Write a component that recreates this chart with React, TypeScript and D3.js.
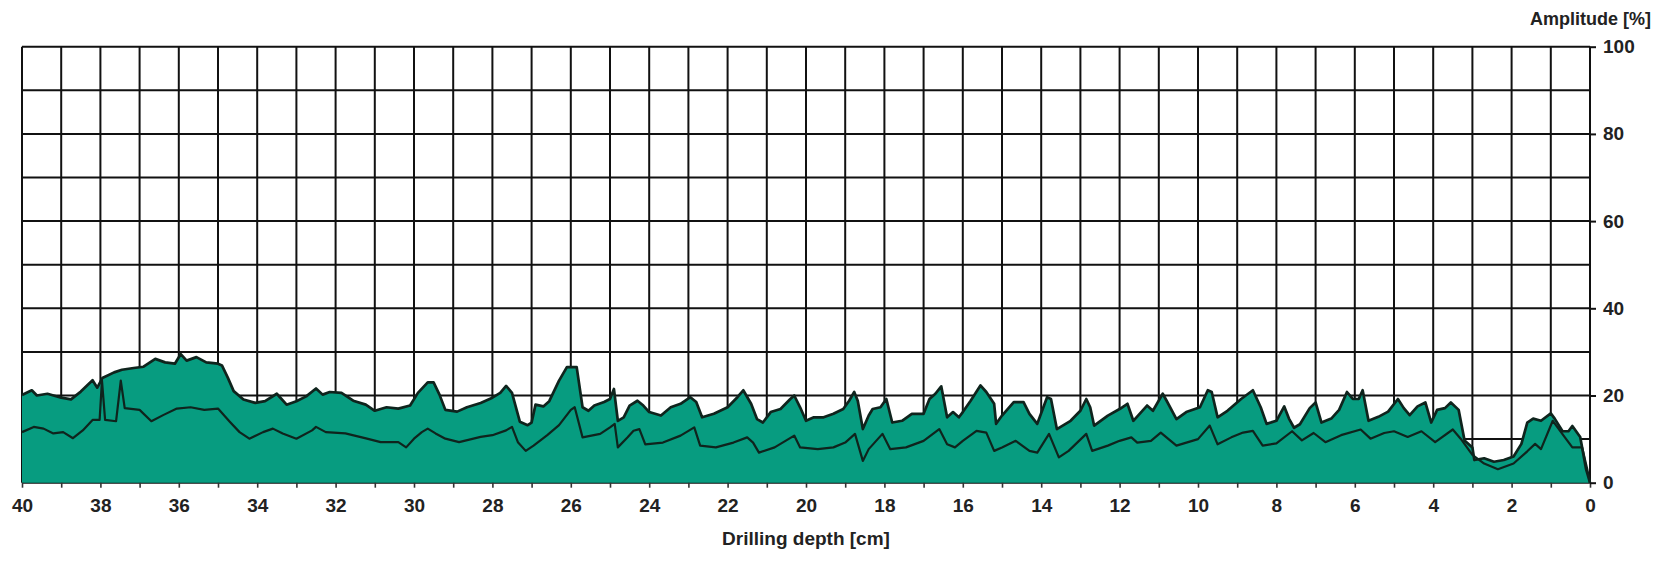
import { useEffect, useRef } from "react";
import * as d3 from "d3";

// upper envelope (outline of the filled area)
const upperDepth = [
  40, 39.75, 39.62, 39.35, 39.0, 38.75, 38.5, 38.2, 38.08, 37.95, 37.65, 37.45, 37.15, 36.9, 36.6, 36.35, 36.1,
  35.95, 35.8, 35.55, 35.3, 35.0, 34.9, 34.75, 34.6, 34.35, 34.05, 33.8, 33.5, 33.25, 33.0, 32.75, 32.5, 32.33,
  32.15, 31.85, 31.55, 31.23, 31.0, 30.7, 30.4, 30.1, 29.9, 29.65, 29.5, 29.35, 29.2, 28.9, 28.65, 28.3, 28.0,
  27.8, 27.65, 27.5, 27.3, 27.1, 27.0, 26.9, 26.7, 26.55, 26.3, 26.1, 25.85, 25.7, 25.55, 25.4, 25.15, 25.0,
  24.9, 24.8, 24.65, 24.5, 24.3, 24.15, 24.0, 23.7, 23.45, 23.2, 22.95, 22.8, 22.65, 22.35, 22.0, 21.75, 21.6,
  21.4, 21.25, 21.1, 20.9, 20.65, 20.4, 20.3, 20.15, 20.0, 19.8, 19.55, 19.3, 19.05, 18.9, 18.77, 18.68, 18.55,
  18.4, 18.3, 18.1, 17.95, 17.8, 17.55, 17.3, 17.0, 16.85, 16.7, 16.55, 16.4, 16.25, 16.1, 16.0, 15.8, 15.55,
  15.4, 15.2, 15.15, 15.0, 14.7, 14.45, 14.3, 14.1, 13.85, 13.75, 13.6, 13.25, 13.0, 12.85, 12.75, 12.65, 12.3,
  12.0, 11.8, 11.65, 11.3, 11.15, 10.9, 10.8, 10.55, 10.3, 9.95, 9.75, 9.65, 9.5, 9.25, 8.9, 8.6, 8.4, 8.25, 8.0,
  7.8, 7.68, 7.55, 7.4, 7.15, 7.0, 6.85, 6.6, 6.4, 6.2, 6.05, 5.9, 5.8, 5.65, 5.4, 5.15, 4.9, 4.75, 4.6, 4.4,
  4.2, 4.05, 3.9, 3.7, 3.55, 3.35, 3.2, 3.0, 2.95, 2.7, 2.45, 2.2, 1.95, 1.75, 1.6, 1.45, 1.25, 1.0, 0.9, 0.7,
  0.55, 0.45, 0.25, 0.1, 0,
];
const upperAmp = [
  20.1, 21.2, 20, 20.4, 19.5, 19.1, 20.9, 23.5, 21.8, 24, 25.3, 25.9, 26.3, 26.6, 28.4, 27.6, 27.3,
  29.5, 28, 28.8, 27.6, 27.3, 26.9, 24.1, 21, 19.1, 18.3, 18.7, 20.4, 17.9, 18.7, 19.8, 21.6, 20.2,
  20.8, 20.6, 18.8, 17.9, 16.5, 17.3, 17, 17.7, 20.6, 23, 23, 20.2, 16.7, 16.3, 17.3, 18.3, 19.5,
  20.6, 22.2, 20.6, 14, 13.2, 13.8, 17.9, 17.5, 18.7, 23.4, 26.5, 26.5, 17.3, 16.5, 17.7, 18.5, 19.2,
  21.5, 14.2, 15, 17.7, 18.8, 17.7, 16.2, 15.4, 17.3, 18.1, 19.6, 18.5, 15, 15.8, 17.3, 19.6, 21.2,
  18.1, 14.6, 13.8, 16.2, 16.9, 19.2, 20, 17.3, 14.2, 15, 15, 15.8, 16.9, 18.8, 20.8, 18.8, 12.3,
  15.4, 16.9, 17.3, 19.2, 13.8, 14.2, 15.8, 15.8, 19.2, 20.4, 22.1, 15, 16.2, 15, 16.2, 18.8, 22.3,
  20.8, 18.1, 13.5, 15.4, 18.5, 18.5, 15.8, 13.5, 19.6, 19.2, 12.3, 14.2, 16.5, 19.2, 17.3, 13.1, 15.4,
  16.9, 18.1, 14.2, 17.7, 16.5, 20.4, 18.8, 14.6, 16.2, 17.3, 21.2, 20.8, 15, 16.5, 19.2, 21.2, 17.3, 13.5, 14.2,
  17.5, 14.7, 12.6, 13.4, 17.1, 18.4, 13.8, 14.7, 16.7, 20.8, 19.2, 19.2, 21.2, 14.2, 15.1, 16.3, 19.2, 17.1, 15.5, 17.5,
  18.4, 13.8, 16.7, 17.1, 18.4, 16.7, 9.7, 8.1, 5.2, 5.6, 4.8, 5.2, 6, 8.9, 13.8, 14.7, 14.2, 15.9, 14.7, 11.8,
  11.8, 13, 10.5, 3.1, 0,
];

// lower curve (drawn as a line inside the area)
const lowerDepth = [
  40, 39.7, 39.45, 39.2, 38.95, 38.7, 38.45, 38.2, 38.02, 37.96, 37.88, 37.6, 37.48, 37.38, 37.0, 36.7, 36.4,
  36.05, 35.7, 35.35, 35.0, 34.7, 34.45, 34.2, 33.85, 33.6, 33.35, 33.0, 32.6, 32.5, 32.25, 31.75, 31.2, 30.85,
  30.4, 30.2, 30.0, 29.8, 29.65, 29.45, 29.2, 28.85, 28.3, 28.0, 27.65, 27.5, 27.35, 27.15, 26.95, 26.6, 26.3,
  26.0, 25.9, 25.7, 25.25, 25.0, 24.88, 24.8, 24.55, 24.4, 24.25, 24.1, 23.65, 23.2, 22.85, 22.7, 22.3, 21.85,
  21.5, 21.35, 21.2, 20.8, 20.3, 20.15, 19.7, 19.3, 19.0, 18.75, 18.55, 18.4, 18.05, 17.85, 17.45, 17.0, 16.6,
  16.4, 16.2, 16.0, 15.65, 15.4, 15.2, 15.0, 14.65, 14.3, 14.1, 13.8, 13.55, 13.3, 12.85, 12.7, 12.3, 12.0, 11.7,
  11.55, 11.2, 10.95, 10.55, 10.0, 9.7, 9.5, 9.15, 8.85, 8.6, 8.35, 8.0, 7.6, 7.35, 7.05, 6.75, 6.35, 5.85, 5.6,
  5.25, 5.0, 4.65, 4.3, 3.95, 3.5, 3.3, 3.0, 2.7, 2.35, 1.95, 1.6, 1.4, 1.25, 0.95, 0.65, 0.45, 0.2, 0.07, 0,
];
const lowerAmp = [
  11.6, 12.8, 12.4, 11.3, 11.6, 10.2, 12, 14.4, 14.4, 23.4, 14.4, 14.1, 23.4, 17.1, 16.7, 14.1, 15.5,
  17, 17.3, 16.7, 17, 14, 11.6, 10.1, 11.6, 12.4, 11.3, 10.1, 12, 12.8, 11.6, 11.3, 10.1, 9.3,
  9.3, 8.1, 10.1, 11.6, 12.4, 11.3, 10.1, 9.3, 10.5, 10.9, 12, 12.8, 9.3, 7.3, 8.5, 10.9, 13.2,
  16.7, 17.3, 10.4, 11.2, 12.7, 13.5, 8.1, 10.4, 11.9, 12.3, 8.8, 9.2, 10.8, 12.7, 8.5, 8.1, 9.2,
  10.4, 9.2, 6.9, 8.1, 10.8, 8.1, 7.7, 8.1, 9.2, 11.2, 5, 7.7, 11.2, 7.7, 8.1, 9.6, 12.3,
  8.8, 8.1, 9.6, 11.9, 11.5, 7.3, 8.1, 9.6, 7.3, 6.9, 11.2, 5.8, 7.3, 11.2, 7.3, 8.5, 9.6, 10.4,
  9.2, 9.6, 11.5, 8.5, 10, 13.1, 8.8, 10.4, 11.5, 11.9, 8.5, 9, 11.8, 9.7, 11.4, 9.3, 10.9, 12.2, 10.1,
  11.4, 11.8, 10.5, 11.8, 9.3, 12.2, 10.1, 6.4, 4.4, 3.1, 4.4, 7.2, 8.9, 7.7, 14.2, 10.5, 8.1, 8.1, 3.1, 0,
];

const depthLabels = [40, 38, 36, 34, 32, 30, 28, 26, 24, 22, 20, 18, 16, 14, 12, 10, 8, 6, 4, 2, 0];
const ampLabels = [0, 20, 40, 60, 80, 100];

const drawChart = (svgEl: SVGSVGElement) => {
  const width = 1663;
  const height = 566;
  const marginTop = 46.7;
  const marginRight = 73;
  const marginBottom = 83.3;
  const marginLeft = 22;
  const fill = "#079c80";
  const ink = "#0f241d";
  const font = "'Liberation Sans', Arial, sans-serif";

  const x = d3.scaleLinear().domain([40, 0]).range([marginLeft, width - marginRight]);
  const y = d3.scaleLinear().domain([0, 100]).range([height - marginBottom, marginTop]);

  const svg = d3.select(svgEl);
  svg.selectAll("*").remove();
  svg
    .attr("width", width)
    .attr("height", height)
    .attr("viewBox", [0, 0, width, height])
    .style("font-family", font);

  svg.append("rect").attr("width", width).attr("height", height).attr("fill", "#fff");

  // grid: every cm and every 10 %
  const grid = svg.append("g").attr("stroke", "#111").attr("stroke-width", 2);
  grid.selectAll("line.v")
    .data(d3.range(40, -1, -1))
    .join("line")
    .attr("class", "v")
    .attr("x1", (d) => x(d))
    .attr("x2", (d) => x(d))
    .attr("y1", y(100))
    .attr("y2", y(0));
  grid.selectAll("line.h")
    .data(d3.range(0, 101, 10))
    .join("line")
    .attr("class", "h")
    .attr("x1", x(40))
    .attr("x2", x(0))
    .attr("y1", (d) => y(d))
    .attr("y2", (d) => y(d));

  const upper: [number, number][] = upperDepth.map((d, i) => [d, upperAmp[i]]);
  const lower: [number, number][] = lowerDepth.map((d, i) => [d, lowerAmp[i]]);

  const area = d3.area<[number, number]>()
    .x((d) => x(d[0]))
    .y0(y(0))
    .y1((d) => y(d[1]));
  const line = d3.line<[number, number]>()
    .x((d) => x(d[0]))
    .y((d) => y(d[1]));

  svg.append("path").datum(upper).attr("fill", fill).attr("d", area);
  svg.append("path")
    .datum(upper)
    .attr("fill", "none")
    .attr("stroke", ink)
    .attr("stroke-width", 2.7)
    .attr("stroke-linejoin", "round")
    .attr("d", line);
  svg.append("path")
    .datum(lower)
    .attr("fill", "none")
    .attr("stroke", ink)
    .attr("stroke-width", 2.2)
    .attr("stroke-linejoin", "round")
    .attr("d", line);

  // x axis (ticks every cm, labels every 2 cm)
  svg.append("g")
    .attr("transform", `translate(0, ${y(0)})`)
    .call(d3.axisBottom(x)
      .tickValues(d3.range(40, -1, -1))
      .tickSize(5)
      .tickPadding(11)
      .tickFormat((d) => (depthLabels.includes(+d) ? String(d) : "")))
    .call((g) => g.select(".domain").remove())
    .call((g) => g.selectAll(".tick line").attr("stroke", "#333").attr("stroke-width", 1.6))
    .call((g) => g.selectAll(".tick text")
      .attr("fill", "#222")
      .attr("font-size", 19)
      .attr("font-weight", "bold")
      .attr("font-family", font));

  // y axis on the right
  svg.append("g")
    .attr("transform", `translate(${x(0)}, 0)`)
    .call(d3.axisRight(y).tickValues(ampLabels).tickSize(6).tickPadding(7))
    .call((g) => g.select(".domain").remove())
    .call((g) => g.selectAll(".tick line").attr("stroke", "#111").attr("stroke-width", 2))
    .call((g) => g.selectAll(".tick text")
      .attr("fill", "#222")
      .attr("font-size", 19)
      .attr("font-weight", "bold")
      .attr("font-family", font));

  svg.append("text")
    .attr("x", (x(40) + x(0)) / 2)
    .attr("y", 545)
    .attr("text-anchor", "middle")
    .attr("fill", "#222")
    .attr("font-size", 19)
    .attr("font-weight", "bold")
    .text("Drilling depth [cm]");

  svg.append("text")
    .attr("x", 1651)
    .attr("y", 25)
    .attr("text-anchor", "end")
    .attr("fill", "#222")
    .attr("font-size", 18)
    .attr("font-weight", "bold")
    .text("Amplitude [%]");
};

export default function App() {
  const svgRef = useRef<SVGSVGElement>(null);

  useEffect(() => {
    if (svgRef.current) drawChart(svgRef.current);
  }, []);

  return (
    <svg
      ref={svgRef}
      style={{ position: "absolute", left: 0, top: 0, display: "block" }}
    />
  );
}
